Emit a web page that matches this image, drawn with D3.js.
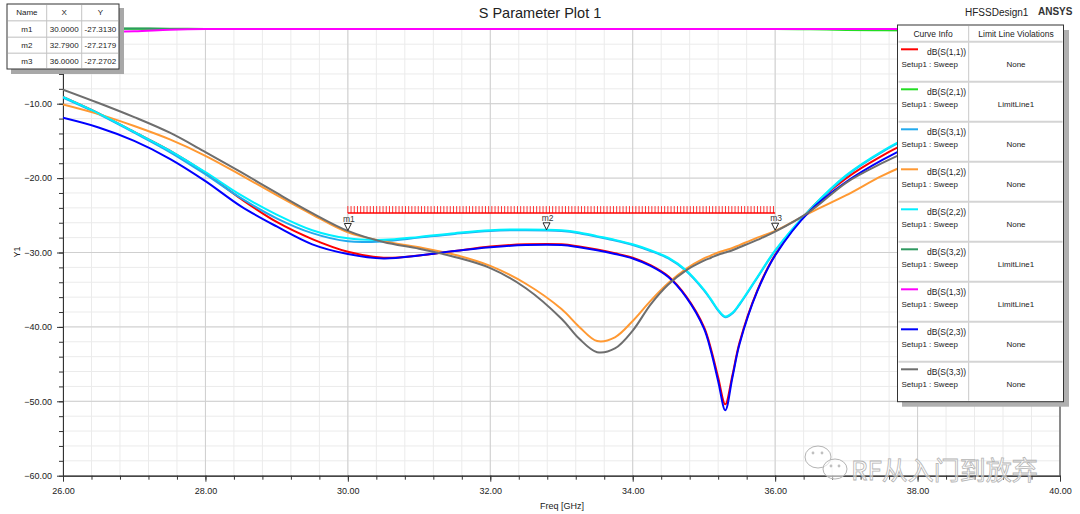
<!DOCTYPE html>
<html>
<head>
<meta charset="utf-8">
<script src="https://cdn.jsdelivr.net/npm/d3@7"></script>
<style>
  body { margin: 0; background: #fff; }
  text { font-family: "Liberation Sans", Arial, sans-serif; }
</style>
</head>
<body>
<svg id="chart" width="1080" height="514"></svg>
<script>
// frequency points (GHz), denser around the resonances
const freq = [26, 26.5, 27, 27.5, 28, 28.5, 29, 29.5, 30, 30.5, 31, 31.5, 32, 32.5, 33, 33.25, 33.5, 33.75,
  34, 34.25, 34.5, 34.75, 35, 35.1, 35.2, 35.3, 35.4, 35.5, 35.75, 36, 36.5, 37, 37.5, 38, 38.5, 39, 39.5, 40];

// dB values
const s11 = [-9.1, -11.3, -13.8, -16.3, -19.3, -22.8, -25.9, -28.2, -29.9, -30.7, -30.4, -29.8, -29.2, -28.9, -28.9, -29.2, -29.6, -30.1,
  -30.7, -31.7, -33.2, -35.9, -40.0, -43.0, -46.8, -50.4, -46.5, -42.1, -35.1, -30.3, -24.1, -20.0, -17.0, -14.6, -12.6, -10.9, -9.5, -8.3];
const s21 = [0.08, 0.08, 0.08, 0.08, 0.05, 0.05, 0.05, 0.05, 0.05, 0.05, 0.05, 0.05, 0.05, 0.05, 0.05, 0.05, 0.05, 0.05,
  0.05, 0.05, 0.05, 0.05, 0.05, 0.05, 0.05, 0.05, 0.05, 0.05, 0.05, 0.04, 0.0, -0.10, -0.14, -0.16, -0.16, -0.14, -0.12, -0.10];
const s31 = [-9.2, -11.4, -13.9, -16.5, -19.5, -22.7, -25.4, -27.4, -28.5, -28.5, -28.0, -27.5, -27.1, -27.0, -27.1, -27.4, -27.9, -28.4,
  -29.0, -29.8, -30.8, -32.5, -35.1, -36.4, -37.8, -38.7, -38.2, -37.0, -33.4, -29.8, -24.2, -19.7, -16.5, -14.0, -11.9, -10.1, -8.6, -7.4];
const s12 = [-10.1, -11.4, -13.0, -14.8, -17.0, -19.6, -22.3, -24.9, -27.3, -28.5, -29.3, -30.3, -31.8, -34.2, -37.6, -40.0, -41.9, -41.4,
  -39.2, -36.5, -34.1, -32.2, -30.8, -30.4, -30.0, -29.7, -29.4, -29.0, -28.0, -27.1, -24.6, -22.3, -19.7, -17.6, -15.8, -14.2, -12.8, -11.6];
const s22 = [-9.1, -11.3, -13.8, -16.3, -19.2, -22.3, -24.9, -27.0, -28.1, -28.3, -27.9, -27.4, -27.0, -26.9, -27.0, -27.3, -27.8, -28.3,
  -28.9, -29.7, -30.7, -32.4, -35.0, -36.3, -37.7, -38.6, -38.1, -36.9, -33.3, -29.7, -24.1, -19.6, -16.4, -13.9, -11.8, -10.0, -8.5, -7.3];
const s32 = [0.12, 0.12, 0.12, 0.05, 0.05, 0.05, 0.05, 0.05, 0.05, 0.05, 0.05, 0.05, 0.05, 0.05, 0.05, 0.05, 0.05, 0.05,
  0.05, 0.05, 0.05, 0.05, 0.05, 0.05, 0.05, 0.05, 0.05, 0.05, 0.05, 0.05, 0.05, 0.05, 0.05, 0.05, 0.05, 0.05, 0.05, 0.05];
const s13 = [-0.35, -0.30, -0.25, -0.05, 0.05, 0.05, 0.05, 0.05, 0.05, 0.05, 0.05, 0.05, 0.05, 0.05, 0.05, 0.05, 0.05, 0.05,
  0.05, 0.05, 0.05, 0.05, 0.05, 0.05, 0.05, 0.05, 0.05, 0.05, 0.05, 0.05, 0.05, 0.05, 0.05, 0.05, 0.05, 0.05, 0.05, 0.05];
const s23 = [-11.9, -13.2, -15.0, -17.4, -20.4, -23.8, -26.5, -28.9, -30.2, -30.8, -30.4, -29.8, -29.3, -29.0, -29.0, -29.3, -29.7, -30.2,
  -30.8, -31.8, -33.3, -36.0, -40.2, -43.3, -47.3, -51.2, -46.8, -42.3, -35.2, -30.4, -24.3, -20.5, -17.6, -15.2, -13.3, -11.6, -10.2, -9.0];
const s33 = [-8.1, -9.9, -11.8, -13.9, -16.5, -19.2, -22.0, -24.7, -27.1, -28.6, -29.5, -30.6, -32.1, -34.8, -38.9, -41.6, -43.4, -42.9,
  -40.5, -37.0, -34.3, -32.4, -31.1, -30.7, -30.3, -30.0, -29.7, -29.3, -28.3, -27.2, -24.4, -20.6, -18.0, -15.8, -13.9, -12.2, -10.8, -9.6];

const curveNames = ["dB(S(1,1))", "dB(S(2,1))", "dB(S(3,1))", "dB(S(1,2))", "dB(S(2,2))", "dB(S(3,2))", "dB(S(1,3))", "dB(S(2,3))", "dB(S(3,3))"];
const curveColors = ["#ff0000", "#22dd22", "#22aaee", "#ff9933", "#00f0ff", "#2e9960", "#ff00ff", "#0000ff", "#6e6e6e"];
const violations = ["None", "LimitLine1", "None", "None", "None", "LimitLine1", "LimitLine1", "None", "None"];
const curves = [s11, s21, s31, s12, s22, s32, s13, s23, s33];

const markerNames = ["m1", "m2", "m3"];
const markerX = [30.0, 32.79, 36.0];
const markerY = [-27.3130, -27.2179, -27.2702];

const limitX = [30, 36];
const limitY = -24.7;

const xTicks = [26, 28, 30, 32, 34, 36, 38, 40];
const yTicks = [-60, -50, -40, -30, -20, -10, 0];

const svg = d3.select("#chart");
const x = d3.scaleLinear().domain([26, 40]).range([63, 1060]);
const y = d3.scaleLinear().domain([-60, 0]).range([475.7, 29.3]);

// grid
const minorX = d3.range(26, 40.001, 0.4);
const minorY = d3.range(-60, 0.001, 2);
const grid = svg.append("g");
grid.selectAll(".mx").data(minorX).enter().append("line")
  .attr("x1", d => x(d)).attr("x2", d => x(d)).attr("y1", y(0)).attr("y2", y(-60))
  .attr("stroke", "#ebebeb");
grid.selectAll(".my").data(minorY).enter().append("line")
  .attr("x1", x(26)).attr("x2", x(40)).attr("y1", d => y(d)).attr("y2", d => y(d))
  .attr("stroke", "#ebebeb");
grid.selectAll(".Mx").data(xTicks).enter().append("line")
  .attr("x1", d => x(d)).attr("x2", d => x(d)).attr("y1", y(0)).attr("y2", y(-60))
  .attr("stroke", "#cfcfcf");
grid.selectAll(".My").data(yTicks).enter().append("line")
  .attr("x1", x(26)).attr("x2", x(40)).attr("y1", d => y(d)).attr("y2", d => y(d))
  .attr("stroke", "#cfcfcf");

// axes
const fmt = d3.format(".2f");
const xMinor = svg.append("g").attr("transform", `translate(0,${y(-60)})`)
  .call(d3.axisBottom(x).tickValues(minorX).tickSize(4).tickFormat("").tickSizeOuter(0));
const xAxis = svg.append("g").attr("transform", `translate(0,${y(-60)})`)
  .call(d3.axisBottom(x).tickValues(xTicks).tickSize(6).tickFormat(fmt).tickSizeOuter(0));
const yMinor = svg.append("g").attr("transform", `translate(${x(26)},0)`)
  .call(d3.axisLeft(y).tickValues(minorY).tickSize(4).tickFormat("").tickSizeOuter(0));
// the 0.00 label sits under the marker table in the original
const yAxis = svg.append("g").attr("transform", `translate(${x(26)},0)`)
  .call(d3.axisLeft(y).tickValues(yTicks).tickSize(6).tickFormat(d => d === 0 ? "" : fmt(d)).tickSizeOuter(0));
[xMinor, xAxis, yMinor, yAxis].forEach(g => {
  g.selectAll("path,line").attr("stroke", "#333");
  g.selectAll("text").attr("fill", "#222").style("font-size", "9px")
    .style("font-family", '"Liberation Sans", Arial, sans-serif');
});
xAxis.selectAll("text").attr("dy", "1.05em");
yAxis.selectAll("text").attr("dx", "-2");
svg.append("line").attr("x1", x(40)).attr("x2", x(40)).attr("y1", y(0)).attr("y2", y(-60)).attr("stroke", "#333");

// curves
svg.append("clipPath").attr("id", "plotclip").append("rect")
  .attr("x", x(26)).attr("y", 26).attr("width", x(40) - x(26)).attr("height", y(-60) - 26);
const line = d3.line().x((d, i) => x(freq[i])).y(d => y(d)).curve(d3.curveCatmullRom.alpha(0.5));
const plot = svg.append("g").attr("clip-path", "url(#plotclip)");
curves.forEach((c, i) => {
  plot.append("path").attr("d", line(c)).attr("fill", "none")
    .attr("stroke", curveColors[i]).attr("stroke-width", 2);
});

// limit line with hatch
const ly = y(limitY);
const hatch = d3.range(x(limitX[0]), x(limitX[1]) + 0.1, 3.2);
svg.append("g").selectAll("line").data(hatch).enter().append("line")
  .attr("x1", d => d).attr("x2", d => d).attr("y1", ly).attr("y2", ly - 7)
  .attr("stroke", "#ff3333").attr("stroke-width", 1);
svg.append("line").attr("x1", x(limitX[0])).attr("x2", x(limitX[1])).attr("y1", ly).attr("y2", ly)
  .attr("stroke", "#ff0000").attr("stroke-width", 1.5);

// markers
markerNames.forEach((m, i) => {
  const mx = x(markerX[i]), my = y(markerY[i]);
  svg.append("path").attr("d", `M${mx - 3.5},${my - 9}L${mx + 3.5},${my - 9}L${mx},${my - 2}Z`)
    .attr("fill", "#fff").attr("stroke", "#111").attr("stroke-width", 0.9);
  svg.append("text").attr("x", mx + 1).attr("y", my - 11).attr("text-anchor", "middle")
    .style("font-size", "8.5px").attr("fill", "#333").text(m);
});

// titles
svg.append("text").attr("x", 540).attr("y", 18).attr("text-anchor", "middle")
  .style("font-size", "14.5px").attr("fill", "#222").text("S Parameter Plot 1");
svg.append("text").attr("x", 965).attr("y", 16).style("font-size", "10px").attr("fill", "#222").text("HFSSDesign1");
svg.append("text").attr("x", 1038).attr("y", 15).style("font-size", "10px").style("font-weight", "bold")
  .attr("fill", "#333").text("ANSYS");
svg.append("text").attr("x", 540).attr("y", 509).style("font-size", "9px").attr("fill", "#222").text("Freq [GHz]");
svg.append("text").attr("transform", "translate(20,252) rotate(-90)").attr("text-anchor", "middle")
  .style("font-size", "9px").attr("fill", "#222").text("Y1");

// marker table
const tbl = svg.append("g");
tbl.append("rect").attr("x", 11).attr("y", 8).attr("width", 113).attr("height", 66).attr("fill", "#a8a8a8");
tbl.append("rect").attr("x", 7).attr("y", 4).attr("width", 112).attr("height", 65)
  .attr("fill", "#fff").attr("stroke", "#333");
const colX = [7, 46.7, 81.7, 119];
const rowY = [4, 20.7, 37.3, 53.3, 69];
[20.7, 37.3, 53.3].forEach(r => tbl.append("line").attr("x1", 8).attr("x2", 118).attr("y1", r).attr("y2", r)
  .attr("stroke", "#d4d4d4").attr("stroke-width", 1.5));
[46.7, 81.7].forEach(c => tbl.append("line").attr("x1", c).attr("x2", c).attr("y1", 5).attr("y2", 68)
  .attr("stroke", "#c4c4c4"));
const tblRows = [["Name", "X", "Y"]].concat(markerNames.map((m, i) => [m, markerX[i].toFixed(4), markerY[i].toFixed(4)]));
tblRows.forEach((r, ri) => r.forEach((t, ci) => {
  tbl.append("text").attr("x", (colX[ci] + colX[ci + 1]) / 2).attr("y", (rowY[ri] + rowY[ri + 1]) / 2 + 3)
    .attr("text-anchor", "middle").style("font-size", "8px").attr("fill", "#222").text(t);
}));

// legend
const lg = svg.append("g");
const lgTop = 25, rowH = 40, hdrH = 16.7;
lg.append("rect").attr("x", 902).attr("y", lgTop + 5).attr("width", 167).attr("height", hdrH + rowH * 9)
  .attr("fill", "#b0b0b0");
lg.append("rect").attr("x", 897.5).attr("y", lgTop).attr("width", 166).attr("height", hdrH + rowH * 9)
  .attr("fill", "#fff").attr("stroke", "#333");
lg.append("line").attr("x1", 968.7).attr("x2", 968.7).attr("y1", lgTop + 1).attr("y2", lgTop + hdrH + rowH * 9 - 1)
  .attr("stroke", "#c8c8c8");
lg.append("text").attr("x", 933).attr("y", lgTop + 11.5).attr("text-anchor", "middle")
  .style("font-size", "8.5px").attr("fill", "#222").text("Curve Info");
lg.append("text").attr("x", 1016).attr("y", lgTop + 11.5).attr("text-anchor", "middle")
  .style("font-size", "8.5px").attr("fill", "#222").text("Limit Line Violations");
curveNames.forEach((n, i) => {
  const top = lgTop + hdrH + rowH * i;
  lg.append("line").attr("x1", 898.5).attr("x2", 1062.5).attr("y1", top).attr("y2", top)
    .attr("stroke", "#d4d4d4").attr("stroke-width", 2);
  lg.append("line").attr("x1", 901).attr("x2", 918).attr("y1", top + 7.6).attr("y2", top + 7.6)
    .attr("stroke", curveColors[i]).attr("stroke-width", 2);
  lg.append("text").attr("x", 927).attr("y", top + 13).style("font-size", "8.5px").attr("fill", "#222").text(n);
  lg.append("text").attr("x", 901.5).attr("y", top + 25).style("font-size", "8px").attr("fill", "#222").text("Setup1 : Sweep");
  lg.append("text").attr("x", 1016).attr("y", top + 25).attr("text-anchor", "middle")
    .style("font-size", "8px").attr("fill", "#222").text(violations[i]);
});

// watermark
const wm = svg.append("g").attr("fill", "rgba(255,255,255,0.55)").attr("stroke", "#b4b4b4").attr("stroke-width", 1);
wm.append("ellipse").attr("cx", 818).attr("cy", 457).attr("rx", 13).attr("ry", 11);
wm.append("ellipse").attr("cx", 835).attr("cy", 469).attr("rx", 12).attr("ry", 10);
[[813, 453], [822, 453], [831, 466], [839, 466]].forEach(p =>
  wm.append("circle").attr("cx", p[0]).attr("cy", p[1]).attr("r", 1.4).attr("fill", "#c0c0c0").attr("stroke", "none"));
wm.append("text").attr("x", 851).attr("y", 480)
  .style("font-family", '"Noto Sans CJK SC", sans-serif').style("font-size", "26px")
  .attr("stroke-width", 0.8).text("RF从入门到放弃");
</script>
</body>
</html>
